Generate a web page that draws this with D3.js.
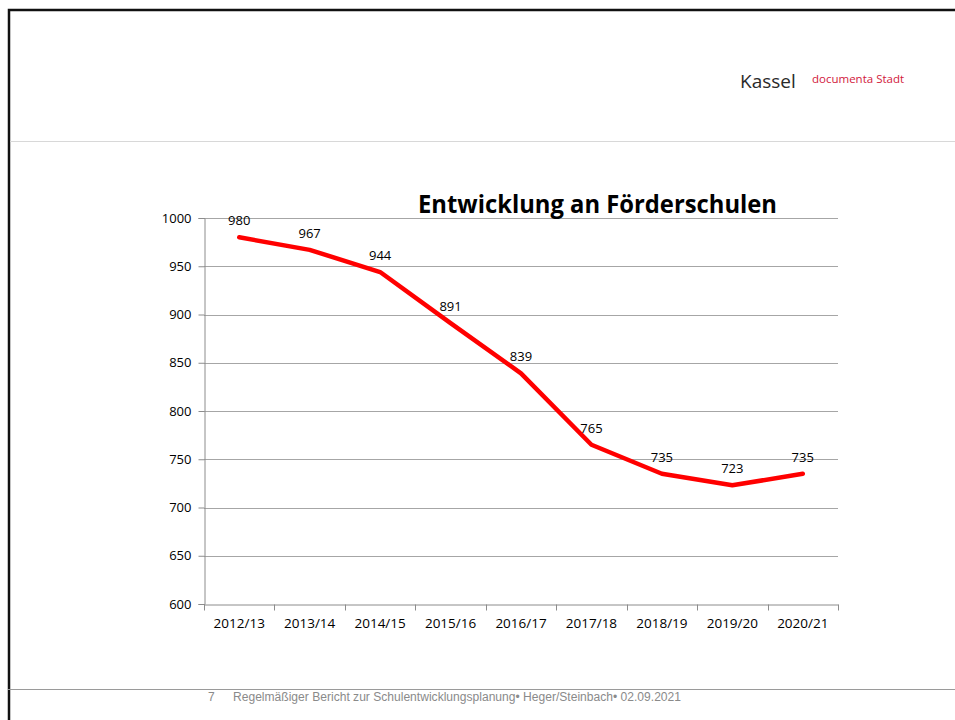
<!DOCTYPE html>
<html>
<head>
<meta charset="utf-8">
<script src="https://cdn.jsdelivr.net/npm/d3@7"></script>
<style>
  body { margin: 0; background: #fff; }
  svg { display: block; }
</style>
</head>
<body>
<div id="container"></div>
<script>
/** DATA */
const years = ["2012/13", "2013/14", "2014/15", "2015/16", "2016/17", "2017/18", "2018/19", "2019/20", "2020/21"];
const pupils = [980, 967, 944, 891, 839, 765, 735, 723, 735];
const yTicks = [600, 650, 700, 750, 800, 850, 900, 950, 1000];

/** CONSTANTS */
const width = 955, height = 720;
const plot = { left: 204, right: 838, top: 218, bottom: 604 };
const labelFont = "'Open Sans', 'Noto Sans', sans-serif";

const svg = d3.select("#container")
  .append("svg")
  .attr("width", width)
  .attr("height", height);

// slide frame
svg.append("path")
  .attr("d", `M9,${height} L9,10 L${width},10`)
  .attr("fill", "none")
  .attr("stroke", "#111")
  .attr("stroke-width", 2.5);

// header / footer lines
svg.append("line").attr("x1", 10).attr("x2", width).attr("y1", 141.5).attr("y2", 141.5)
  .attr("stroke", "#d8d8d8").attr("stroke-width", 1);
svg.append("line").attr("x1", 8).attr("x2", width).attr("y1", 689.5).attr("y2", 689.5)
  .attr("stroke", "#9a9a9a").attr("stroke-width", 1);

// logo
svg.append("text").attr("x", 740).attr("y", 88)
  .attr("font-family", labelFont).attr("font-size", 19).attr("fill", "#2a2a2a")
  .text("Kassel");
svg.append("text").attr("x", 812).attr("y", 83)
  .attr("font-family", labelFont).attr("font-size", 11.5).attr("fill", "#d2183c")
  .text("documenta Stadt");

// footer text
const footFont = "'Liberation Sans', Arial, sans-serif";
svg.append("text").attr("x", 208).attr("y", 701)
  .attr("font-family", footFont).attr("font-size", 12).attr("fill", "#8a8a8a")
  .text("7");
svg.append("text").attr("x", 233).attr("y", 701)
  .attr("font-family", footFont).attr("font-size", 12).attr("fill", "#8a8a8a")
  .attr("textLength", 448).attr("lengthAdjust", "spacingAndGlyphs")
  .text("Regelmäßiger Bericht zur Schulentwicklungsplanung• Heger/Steinbach• 02.09.2021");

/** SCALES */
const x = d3.scaleBand().domain(years).range([plot.left, plot.right]);
const y = d3.scaleLinear().domain([600, 1000]).range([plot.bottom, plot.top]);

// gridlines
svg.append("g")
  .selectAll("line")
  .data(yTicks.filter(d => d !== 600))
  .join("line")
  .attr("x1", plot.left).attr("x2", plot.right)
  .attr("y1", d => Math.round(y(d)) + 0.5).attr("y2", d => Math.round(y(d)) + 0.5)
  .attr("stroke", "#a6a6a6");

// y axis
const yAxis = svg.append("g")
  .attr("transform", `translate(${plot.left + 0.5},0)`)
  .call(d3.axisLeft(y).tickValues(yTicks).tickFormat(d3.format("d")).tickSize(6).tickPadding(7));
yAxis.select(".domain").attr("stroke", "#8c8c8c");
yAxis.selectAll(".tick line").attr("stroke", "#8c8c8c");
yAxis.selectAll(".tick text").attr("font-family", labelFont).attr("font-size", 13).attr("fill", "#000");

// x axis
const xAxis = svg.append("g")
  .attr("transform", `translate(0,${Math.round(plot.bottom) + 0.5})`)
  .call(d3.axisBottom(x).tickSize(0).tickPadding(14));
xAxis.select(".domain").attr("stroke", "#8c8c8c");
xAxis.selectAll(".tick text").attr("font-family", labelFont).attr("font-size", 13.5).attr("fill", "#000");
// tick marks at category boundaries
xAxis.selectAll(".bound")
  .data(years.concat(["end"]))
  .join("line")
  .attr("class", "bound")
  .attr("x1", (d, i) => Math.round(plot.left + i * x.step()) + 0.5)
  .attr("x2", (d, i) => Math.round(plot.left + i * x.step()) + 0.5)
  .attr("y1", 0).attr("y2", 6)
  .attr("stroke", "#8c8c8c");

// line
const line = d3.line()
  .x((d, i) => x(years[i]) + x.bandwidth() / 2)
  .y(d => y(d));

svg.append("path")
  .datum(pupils)
  .attr("d", line)
  .attr("fill", "none")
  .attr("stroke", "#ff0000")
  .attr("stroke-width", 4.5)
  .attr("stroke-linejoin", "round")
  .attr("stroke-linecap", "round");

// data labels
svg.append("g")
  .selectAll("text")
  .data(pupils)
  .join("text")
  .attr("x", (d, i) => x(years[i]) + x.bandwidth() / 2)
  .attr("y", d => y(d) - 12)
  .attr("text-anchor", "middle")
  .attr("font-family", labelFont)
  .attr("font-size", 13)
  .attr("fill", "#000")
  .text(d => d);

// title
svg.append("text")
  .attr("x", 418).attr("y", 213)
  .attr("font-family", labelFont)
  .attr("font-weight", "bold")
  .attr("font-size", 25)
  .attr("textLength", 359)
  .attr("lengthAdjust", "spacingAndGlyphs")
  .attr("fill", "#000")
  .text("Entwicklung an Förderschulen");
</script>
</body>
</html>
